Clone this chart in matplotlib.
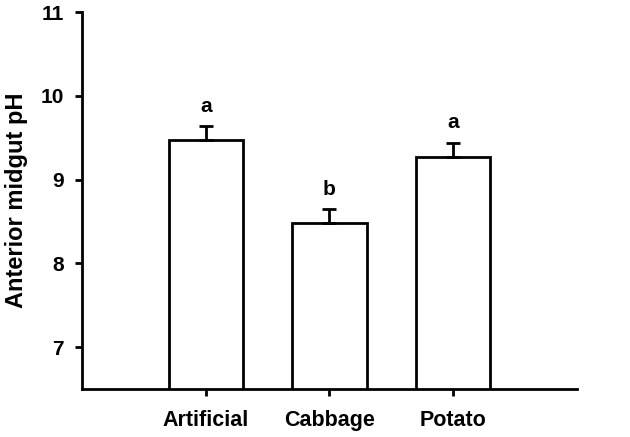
import numpy as np
from matplotlib import pyplot as plt

# Diet treatments and anterior midgut pH (mean + SE)
diets = ['Artificial', 'Cabbage', 'Potato']
ph_mean = [9.47, 8.48, 9.27]
ph_se = [0.17, 0.17, 0.17]
letters = ['a', 'b', 'a']

plt.rcParams['font.family'] = ['Liberation Sans', 'DejaVu Sans']
plt.rcParams['font.weight'] = 'bold'

fig = plt.figure(figsize=(6.3, 4.37), dpi=100)
ax = fig.add_axes([0.130, 0.110, 0.786, 0.8625])

x = np.arange(len(diets))
ax.bar(x, ph_mean, width=0.6, bottom=0, color='white', edgecolor='black',
       linewidth=2, zorder=2)
ax.errorbar(x, ph_mean, yerr=[np.zeros(len(x)), ph_se], fmt='none',
            ecolor='black', elinewidth=2, capsize=5, capthick=2, zorder=3)

# significance letters above the error bars
for xi, m, s, lab in zip(x, ph_mean, ph_se, letters):
    ax.text(xi, m + s + 0.17, lab, ha='center', va='baseline',
            fontsize=15, fontweight='bold')

ax.set_xlim(-1, 3)
ax.set_ylim(6.5, 11)
ax.set_yticks([7, 8, 9, 10, 11])
ax.set_xticks(x)
ax.set_xticklabels(diets)
ax.set_ylabel('Anterior midgut pH', fontsize=17, fontweight='bold', labelpad=9)

for side in ['top', 'right']:
    ax.spines[side].set_visible(False)
for side in ['left', 'bottom']:
    ax.spines[side].set_linewidth(2)
ax.tick_params(axis='both', width=2, length=5, labelsize=15, pad=8)
ax.tick_params(axis='x', labelsize=15.5, pad=10)
for lbl in ax.get_xticklabels() + ax.get_yticklabels():
    lbl.set_fontweight('bold')

fig.savefig('out.png', dpi=100)
